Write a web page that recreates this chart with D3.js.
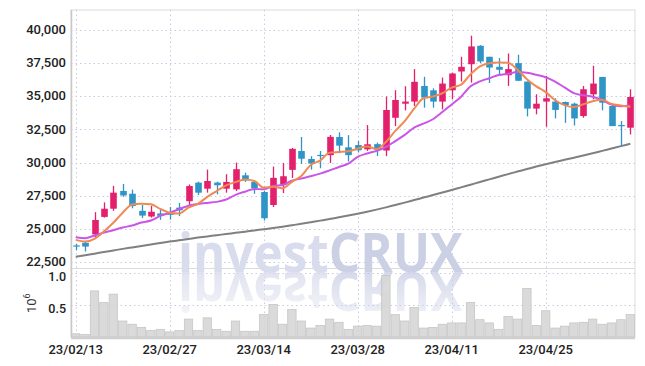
<!DOCTYPE html>
<html><head><meta charset="utf-8">
<script src="https://cdn.jsdelivr.net/npm/d3@7"></script>
<style>
body{margin:0;background:#fff;}
svg{display:block;font-family:Roboto,"DejaVu Sans",sans-serif;}
</style>
</head><body>
<svg id="chart" width="645" height="366"></svg>
<script>
const dates = ["23/02/13","23/02/14","23/02/15","23/02/16","23/02/17","23/02/20","23/02/21","23/02/22","23/02/23","23/02/24","23/02/27","23/02/28",
"23/03/02","23/03/03","23/03/06","23/03/07","23/03/08","23/03/09","23/03/10","23/03/13","23/03/14","23/03/15","23/03/16","23/03/17","23/03/20","23/03/21","23/03/22","23/03/23","23/03/24","23/03/27","23/03/28","23/03/29","23/03/30","23/03/31",
"23/04/03","23/04/04","23/04/05","23/04/06","23/04/07","23/04/10","23/04/11","23/04/12","23/04/13","23/04/14","23/04/17","23/04/18","23/04/19","23/04/20","23/04/21","23/04/24","23/04/25","23/04/26","23/04/27","23/04/28",
"23/05/02","23/05/03","23/05/04","23/05/08","23/05/09","23/05/10"];
const openP = [23750,23950,24580,25900,26520,27860,27650,26360,25930,26160,26150,26600,27090,28490,28030,28490,28030,27980,29040,28540,27780,26800,28330,29450,30870,30270,30580,30560,31930,31150,31320,31000,31390,30910,33380,34440,34600,35780,35450,34600,35450,36870,37420,38810,37980,37220,36590,37500,36110,34070,34600,34600,34570,34440,33510,35150,36460,34270,32830,32630];
const highP = [23880,24090,26260,27000,28240,28390,27960,26800,26740,26530,26650,26960,28350,28560,29470,28560,29120,30000,29240,28610,27850,29700,29970,31100,31930,30480,30870,32080,32280,32070,31640,32830,31510,34980,35460,35760,37050,36470,35600,36410,36790,37980,39570,38860,37980,37880,38230,38130,36110,35150,36540,34850,34600,34520,35780,37300,36460,34300,33130,35530];
const lowP = [23380,23290,24330,25850,26360,27420,26550,25820,25850,25680,25700,25960,26800,27550,27730,27600,27730,27850,28540,27650,25630,26650,27700,28840,29890,29470,29570,29970,30700,30080,30760,30880,30500,30480,32750,33940,34270,34140,34140,34010,34770,36110,36030,37500,36000,36670,35780,36160,33480,33640,32700,33330,33000,32800,33380,34770,33940,32750,31240,32120];
const closeP = [23700,23660,25670,26520,27730,27520,26720,26000,26290,25980,26100,26400,28230,27730,28610,28290,28540,29500,28660,28060,25800,28850,28970,31035,30290,29930,30540,31940,31280,30560,30930,31380,30930,33965,34720,34600,36090,34900,34600,35960,36720,37220,38760,37630,37170,37000,37050,36170,34070,34440,34850,33970,34340,33330,35530,35960,34520,32750,32780,34950];
const volume = [50000,40000,720000,540000,670000,250000,200000,150000,100000,120000,80000,100000,280000,100000,300000,120000,90000,250000,90000,90000,350000,510000,200000,430000,250000,140000,180000,280000,230000,120000,170000,180000,170000,960000,350000,250000,460000,140000,150000,200000,220000,220000,540000,270000,220000,120000,320000,280000,760000,180000,410000,140000,170000,220000,230000,280000,200000,220000,270000,350000];
const ma5 = [24170,24040,24250,24800,25456,26220,26832,26898,26852,26502,26218,26154,26600,26888,27414,27852,28280,28534,28720,28610,28112,28174,28068,28543,28989,29815,30153,30747,30796,30850,31050,31218,31016,31553,32385,33119,34061,34855,34982,35230,35654,35880,36652,37258,37500,37556,37522,37004,36292,35746,35316,34700,34334,34186,34404,34626,34736,34418,34308,34192];
const ma10 = [24370,24300,24500,24720,24900,25100,25250,25480,25630,25979,26219,26493,26749,26870,26958,27035,27217,27567,27804,28012,27982,28227,28301,28632,28800,28964,29164,29408,29670,29920,30433,30686,30882,31175,31618,32085,32640,32936,33268,33808,34387,34971,35754,36120,36365,36605,36701,36828,36775,36623,36436,36111,35669,35239,35075,34971,34718,34376,34247,34298];
const ma60 = [22900,23010,23130,23250,23370,23490,23600,23710,23820,23930,24040,24140,24240,24340,24430,24520,24610,24700,24790,24880,24970,25060,25160,25270,25380,25500,25620,25740,25870,26000,26140,26290,26450,26620,26800,26980,27170,27360,27550,27740,27930,28130,28330,28530,28730,28930,29130,29320,29510,29700,29880,30050,30210,30370,30530,30700,30880,31060,31240,31420];
const priceTicks = [22500,25000,27500,30000,32500,35000,37500,40000];
const volTicks = [500000,1000000];
const volTickLabels = ["0.5","1.0"];
const xTickLabels = ["23/02/13","23/02/27","23/03/14","23/03/28","23/04/11","23/04/25"];

const svg = d3.select("#chart");
const L=71, R=635, T=10, PB=268, VB=337;
const x = d3.scaleBand().domain(dates).range([L,R]).padding(0);
const bw = x.bandwidth();
const cx = d => x(d) + bw/2;
const y = d3.scaleLinear().domain([22500,40000]).range([262,30]);
const yv = d3.scaleLinear().domain([0,1000000]).range([VB,273]);
const RED="#e3206c", BLUE="#2f94c6", GRID="#c6cbe0";

// defs
const defs = svg.append("defs");
const cp = defs.append("clipPath").attr("id","pclip");
cp.append("rect").attr("x",L).attr("y",T).attr("width",R-L).attr("height",PB-T);
const grad = defs.append("linearGradient").attr("id","fade").attr("x1",0).attr("y1",0).attr("x2",0).attr("y2",1);
grad.append("stop").attr("offset","0%").attr("stop-color","#fff").attr("stop-opacity",0.8);
grad.append("stop").attr("offset","100%").attr("stop-color","#fff").attr("stop-opacity",0.05);
const mask = defs.append("mask").attr("id","rmask").attr("maskUnits","userSpaceOnUse")
  .attr("x",0).attr("y",272).attr("width",645).attr("height",70);
mask.append("rect").attr("x",0).attr("y",272).attr("width",645).attr("height",66).attr("fill","url(#fade)");

// frame
svg.append("rect").attr("x",L).attr("y",T).attr("width",R-L).attr("height",VB-T)
  .attr("fill","#fff").attr("stroke","#dcdcdc").attr("stroke-width",1);
svg.append("line").attr("x1",L).attr("x2",R).attr("y1",PB+0.5).attr("y2",PB+0.5)
  .attr("stroke","#dcdcdc");

// grid
const g = svg.append("g");
g.selectAll(".hg").data(priceTicks).join("line")
  .attr("x1",L).attr("x2",R).attr("y1",d=>Math.round(y(d))+0.5).attr("y2",d=>Math.round(y(d))+0.5)
  .attr("stroke",GRID).attr("stroke-dasharray","1.5,3");
g.selectAll(".vg").data(volTicks).join("line")
  .attr("x1",L).attr("x2",R).attr("y1",d=>Math.round(yv(d))+0.5).attr("y2",d=>Math.round(yv(d))+0.5)
  .attr("stroke",GRID).attr("stroke-dasharray","1.5,3");
g.selectAll(".xg").data(xTickLabels).join("line")
  .attr("x1",d=>Math.round(cx(d))+0.5).attr("x2",d=>Math.round(cx(d))+0.5).attr("y1",T).attr("y2",VB)
  .attr("stroke",GRID).attr("stroke-dasharray","1.5,3");

// watermark (text + mirrored reflection via <use>)
const wm = svg.append("text").attr("id","wm").attr("x",178).attr("y",272)
  .attr("font-family","'Open Sans','DejaVu Sans',sans-serif").attr("font-weight",700)
  .attr("font-size",54).attr("textLength",285).attr("lengthAdjust","spacingAndGlyphs");
wm.append("tspan").attr("fill","#d9dcec").text("invest");
wm.append("tspan").attr("fill","#ccd0e5").text("CRUX");
svg.append("g").attr("mask","url(#rmask)")
  .append("use").attr("href","#wm").attr("transform","translate(0,544) scale(1,-1)");

// volume bars
svg.append("g").selectAll("rect").data(dates).join("rect")
  .attr("x",d=>x(d)+0.5).attr("width",bw-1)
  .attr("y",(d,i)=>yv(volume[i])).attr("height",(d,i)=>VB-yv(volume[i]))
  .attr("fill","#d6d6d6").attr("fill-opacity",0.9).attr("stroke","#c2c2c2").attr("stroke-width",0.7);

// x baseline & left axis
svg.append("line").attr("x1",L).attr("x2",R).attr("y1",VB+1).attr("y2",VB+1).attr("stroke","#cfcfcf").attr("stroke-width",2.5);
svg.append("line").attr("x1",L+0.5).attr("x2",L+0.5).attr("y1",T).attr("y2",VB).attr("stroke","#c8c8c8").attr("stroke-width",1.5);

// price panel content
const pg = svg.append("g").attr("clip-path","url(#pclip)");
const line = arr => d3.line().x((d,i)=>cx(dates[i])).y(d=>y(d)).curve(d3.curveMonotoneX)(arr);
pg.append("path").attr("d",line(ma60)).attr("fill","none").attr("stroke","#808080").attr("stroke-width",2);

const candles = pg.append("g").selectAll("g").data(dates).join("g");
candles.append("line")
  .attr("x1",d=>Math.round(cx(d))+0.5).attr("x2",d=>Math.round(cx(d))+0.5)
  .attr("y1",(d,i)=>y(highP[i])).attr("y2",(d,i)=>y(lowP[i]))
  .attr("stroke",(d,i)=>closeP[i]>=openP[i]?RED:BLUE).attr("stroke-width",1.3);
candles.append("rect")
  .attr("x",d=>Math.round(cx(d))+0.5-3.3).attr("width",6.6)
  .attr("y",(d,i)=>y(Math.max(openP[i],closeP[i])))
  .attr("height",(d,i)=>Math.max(1.2,Math.abs(y(openP[i])-y(closeP[i]))))
  .attr("fill",(d,i)=>closeP[i]>=openP[i]?RED:BLUE);

pg.append("path").attr("d",line(ma10)).attr("fill","none").attr("stroke","#cb55e6").attr("stroke-width",2);
pg.append("path").attr("d",line(ma5)).attr("fill","none").attr("stroke","#ef8a55").attr("stroke-width",2);

// axes labels
const lab = svg.append("g").attr("font-size",13).attr("font-weight",500).attr("fill","#222");
lab.selectAll(".yl").data(priceTicks).join("text")
  .attr("x",66).attr("y",d=>y(d)-0.5).attr("dy","0.36em").attr("text-anchor","end")
  .text(d=>d3.format(",")(d));
lab.selectAll(".vl").data(volTicks).join("text")
  .attr("x",66).attr("y",d=>yv(d)+3.5).attr("dy","0.36em").attr("text-anchor","end")
  .attr("font-size",12.5)
  .text((d,i)=>volTickLabels[i]);
lab.selectAll(".xl").data(xTickLabels).join("text")
  .attr("x",d=>cx(d)).attr("y",354).attr("text-anchor","middle")
  .text(d=>d);
const ut = svg.append("text").attr("transform","translate(36,313) rotate(-90)")
  .attr("font-size",13).attr("fill","#333");
ut.append("tspan").text("10");
ut.append("tspan").attr("dy",-6).attr("font-size",9).text("6");
</script>
</body></html>
